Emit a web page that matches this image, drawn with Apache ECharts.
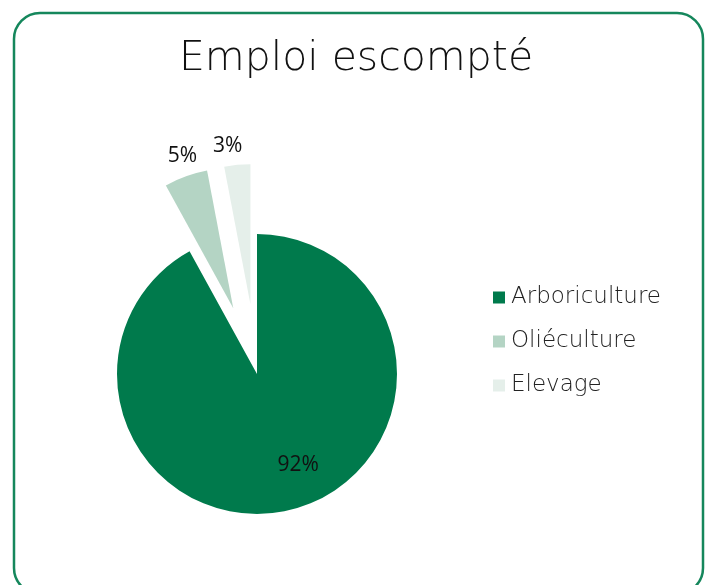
<!DOCTYPE html>
<html>
<head>
<meta charset="utf-8">
<script src="https://cdn.jsdelivr.net/npm/echarts@6/dist/echarts.min.js"></script>
<style>
  html, body { margin: 0; padding: 0; background: #fff; }
  #chart { width: 712px; height: 585px; }
</style>
</head>
<body>
<div id="chart"></div>
<script>
// données du graphique
const categories = ['Arboriculture', 'Oliéculture', 'Elevage'];
const values = [92, 5, 3];
const colors = ['#007A4C', '#B4D4C4', '#E5EFEA'];
const exploded = [false, true, true];

let myChart = echarts.init(document.getElementById('chart'));

// petit décalage des étiquettes extérieures (px)
const labelShift = [[0, 0], [19, -13], [11, -11]];

const pieData = categories.map(function (name, i) {
    return {
        name: name,
        value: values[i],
        selected: exploded[i],
        itemStyle: { color: colors[i] },
        select: { itemStyle: { color: colors[i], borderWidth: 0 } },
        label: i === 0
            ? { position: 'inside', offset: [23, 20] }
            : { position: 'outside' }
    };
});

myChart.setOption({
    animation: false,
    title: {
        text: 'Emploi escompté',
        left: 'center',
        top: 34,
        textStyle: {
            fontFamily: 'DejaVu Sans',
            fontWeight: 200,
            fontSize: 41,
            color: '#111'
        }
    },
    legend: {
        orient: 'vertical',
        left: 493,
        top: 284,
        padding: 0,
        itemWidth: 12,
        itemHeight: 12,
        itemGap: 17,
        icon: 'rect',
        data: categories,
        selectedMode: false,
        textStyle: {
            fontFamily: 'DejaVu Sans',
            fontWeight: 200,
            fontSize: 23,
            lineHeight: 27,
            color: '#222',
            padding: [0, 0, 0, 1]
        }
    },
    graphic: [{
        type: 'rect',
        shape: { x: 14, y: 13, width: 689, height: 581, r: 26 },
        style: { fill: 'none', stroke: '#15875C', lineWidth: 2.5 },
        silent: true
    }],
    series: [{
        type: 'pie',
        center: [257, 374],
        radius: 140,
        startAngle: 90,
        clockwise: true,
        selectedMode: 'multiple',
        selectedOffset: 70,
        avoidLabelOverlap: false,
        label: {
            show: true,
            formatter: '{c}%',
            fontFamily: 'Open Sans',
            fontSize: 21,
            color: '#111'
        },
        labelLine: { show: false, length: 8, length2: 0 },
        labelLayout: function (params) {
            const s = labelShift[params.dataIndex];
            return { dx: s[0], dy: s[1], hideOverlap: false };
        },
        emphasis: { disabled: true },
        data: pieData
    }]
});
</script>
</body>
</html>
